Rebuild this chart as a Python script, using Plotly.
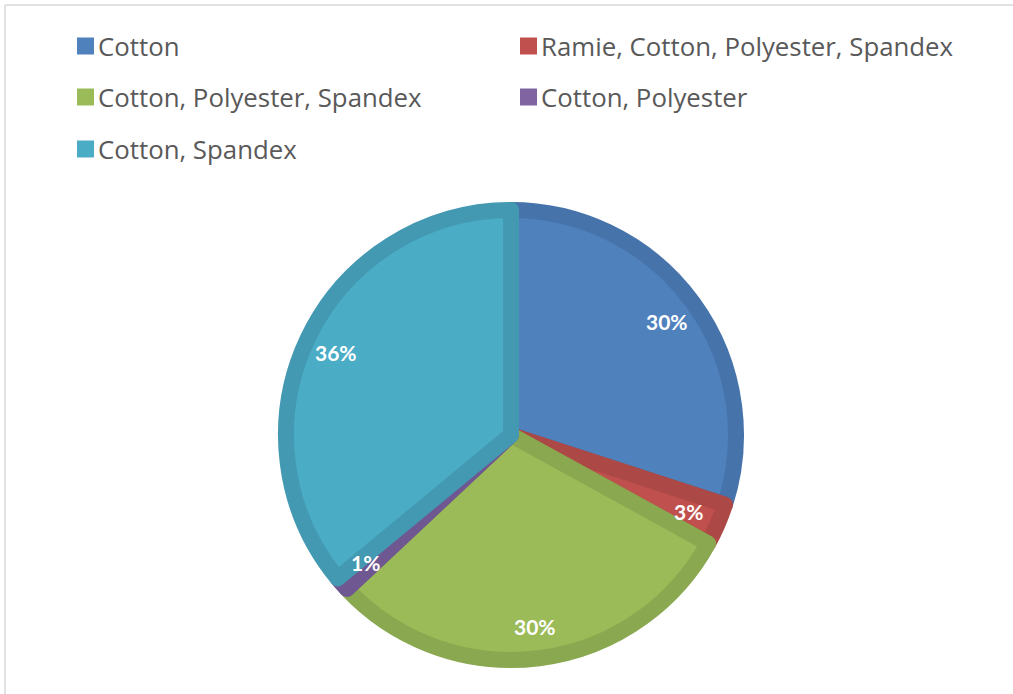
import numpy as np
import plotly.graph_objects as go

# ---- data ----
labels = ["Cotton", "Ramie, Cotton, Polyester, Spandex", "Cotton, Polyester, Spandex",
          "Cotton, Polyester", "Cotton, Spandex"]
values = [30, 3, 30, 1, 36]
fill_colors = ["#4F81BD", "#C0504D", "#9BBB59", "#8064A2", "#4BACC6"]
edge_colors = ["#4673AA", "#AC4845", "#8AA84F", "#6F5791", "#4399B2"]

W, H = 1013, 694
CX, CY = 511, 435          # pie centre in pixels (from top-left)
R_OUT = 233                # outer radius incl. border
LW = 16                    # border width
R = R_OUT - LW / 2         # path radius

def px(x):
    return x / W

def py(y):
    return 1 - y / H

fig = go.Figure()
fig.add_trace(go.Pie(
    labels=labels, values=values, sort=False, direction="clockwise", rotation=0,
    marker=dict(colors=fill_colors, line=dict(color=edge_colors, width=LW)),
    textinfo="none", hoverinfo="label+percent", showlegend=False,
    domain=dict(x=[px(CX - R), px(CX + R)], y=[py(CY + R), py(CY - R)]),
))

# percentage labels, placed on each slice bisector
vals = np.array(values, dtype=float)
pct = vals / vals.sum() * 100
cum = np.cumsum(vals) - vals / 2
mid_deg = cum / vals.sum() * 360
r_lab = 0.83 * R_OUT
annotations = []
for p, a in zip(pct, mid_deg):
    t = np.radians(a)
    x = CX + r_lab * np.sin(t)
    y = CY - r_lab * np.cos(t)
    annotations.append(dict(
        x=px(x), y=py(y), xref="paper", yref="paper", showarrow=False,
        text=f"<b>{p:.0f}%</b>", font=dict(family="Lato", size=21, color="white"),
        xanchor="center", yanchor="middle"))

# legend (two columns)
shapes = []
col_x = [77, 520]
row_y = [46, 97, 149]
SQ = 17
for i, (lab, c) in enumerate(zip(labels, fill_colors)):
    x0 = col_x[i % 2]
    yc = row_y[i // 2]
    shapes.append(dict(type="rect", xref="paper", yref="paper",
                       x0=px(x0), x1=px(x0 + SQ), y0=py(yc + SQ / 2), y1=py(yc - SQ / 2),
                       fillcolor=c, line=dict(width=0)))
    annotations.append(dict(
        x=px(x0 + SQ + 2), y=py(yc), xref="paper", yref="paper", showarrow=False,
        text=lab, font=dict(family="Open Sans", size=25.8, color="#595959"),
        xanchor="left", yanchor="middle"))

# chart frame (top and left edges)
shapes.append(dict(type="line", xref="paper", yref="paper", x0=px(5), x1=px(1013),
                   y0=py(5), y1=py(5), line=dict(color="#D9D9D9", width=1.5)))
shapes.append(dict(type="line", xref="paper", yref="paper", x0=px(5), x1=px(5),
                   y0=py(5), y1=py(694), line=dict(color="#D9D9D9", width=1.5)))

fig.update_layout(
    width=W, height=H, autosize=False,
    margin=dict(l=0, r=0, t=0, b=0),
    paper_bgcolor="white", plot_bgcolor="white",
    annotations=annotations, shapes=shapes,
)

fig.write_html("out.html")
